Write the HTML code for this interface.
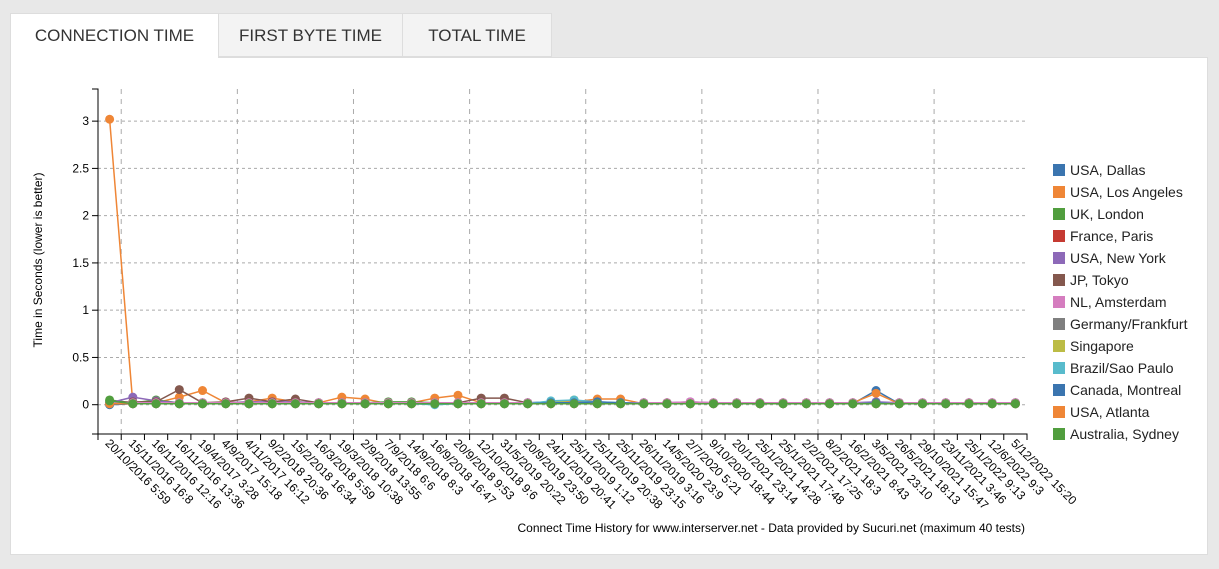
<!DOCTYPE html>
<html><head><meta charset="utf-8"><style>
body{margin:0;width:1219px;height:569px;background:#e8e8e8;font-family:"Liberation Sans",sans-serif;overflow:hidden;position:relative}
.tab{position:absolute;top:13px;height:44px;box-sizing:border-box;font-size:17px;color:#333;line-height:44px;text-align:center;border:1px solid #ddd;background:#f3f3f3}
#panel{position:absolute;left:10px;top:57px;width:1198px;height:498px;background:#fff;border:1px solid #ddd;box-sizing:border-box}
</style></head><body>
<div class="tab" style="left:10px;width:209px;background:#fff;border-bottom:none;z-index:2;height:45px">CONNECTION TIME</div>
<div class="tab" style="left:218px;width:185px">FIRST BYTE TIME</div>
<div class="tab" style="left:402px;width:150px">TOTAL TIME</div>
<div id="panel"></div>
<svg id="chart" width="1219" height="569" style="position:absolute;left:0;top:0" font-family="Liberation Sans, sans-serif"></svg>
<script>
const categories=["20/10/2016 5:59","15/11/2016 16:8","16/11/2016 12:16","16/11/2016 13:36","19/4/2017 3:28","4/9/2017 15:18","4/11/2017 16:12","9/2/2018 20:36","15/2/2018 16:34","16/3/2018 5:59","19/3/2018 10:38","2/9/2018 13:55","7/9/2018 6:6","14/9/2018 8:3","16/9/2018 16:47","20/9/2018 9:53","12/10/2018 9:6","31/5/2019 20:22","20/9/2019 23:50","24/11/2019 20:41","25/11/2019 1:12","25/11/2019 20:38","25/11/2019 23:15","26/11/2019 3:16","14/5/2020 23:9","2/7/2020 5:21","9/10/2020 18:44","20/1/2021 23:14","25/1/2021 14:28","25/1/2021 17:48","2/2/2021 17:25","8/2/2021 18:3","16/2/2021 8:43","3/5/2021 23:10","26/5/2021 18:13","29/10/2021 15:47","23/11/2021 3:46","25/1/2022 9:13","12/6/2022 9:3","5/12/2022 15:20"];
const seriesNames=["USA, Dallas","USA, Los Angeles","UK, London","France, Paris","USA, New York","JP, Tokyo","NL, Amsterdam","Germany/Frankfurt","Singapore","Brazil/Sao Paulo","Canada, Montreal","USA, Atlanta","Australia, Sydney"];
const seriesColors=["#3b75af","#ef8636","#519e3e","#c53a32","#8d69b8","#84584e","#d57dbf","#7f7f7f","#bcbc45","#58bbcc","#3b75af","#ef8636","#519e3e"];
const yTicks=[0,0.5,1,1.5,2,2.5,3];
const dallas=[0,.01,.02,.01,.01,.02,.01,.02,.02,.01,.02,.01,.02,.02,.01,.02,.01,.01,.02,.03,.03,.02,.02,.02,.01,.01,.01,.01,.01,.01,.01,.01,.01,.15,.01,.01,.01,.01,.01,.01];
const la=[3.02,.01,.02,.08,.15,.02,.03,.07,.03,.02,.08,.06,.01,.02,.07,.1,.02,.02,.02,.02,.03,.06,.06,.01,.02,.02,.01,.01,.01,.01,.02,.01,.02,.12,.01,.01,.01,.02,.01,.01];
const london=[.05,.02,.05,.02,.02,.02,.02,.02,.02,.02,.02,.02,.03,.03,.02,.02,.02,.02,.02,.02,.02,.02,.02,.02,.02,.02,.02,.02,.02,.02,.02,.02,.02,.02,.02,.02,.02,.02,.02,.02];
const paris=[.01,.01,.01,.01,.01,.01,.01,.01,.01,.01,.01,.01,.01,.01,.01,.01,.01,.01,.01,.01,.01,.01,.01,.01,.01,.01,.01,.01,.01,.01,.01,.01,.01,.01,.01,.01,.01,.01,.01,.01];
const newyork=[.02,.08,.04,.02,.02,.02,.03,.03,.03,.02,.02,.02,.02,.02,.02,.02,.02,.02,.02,.02,.02,.02,.02,.02,.02,.03,.02,.02,.02,.02,.02,.02,.02,.03,.02,.02,.02,.02,.02,.02];
const tokyo=[.02,.03,.03,.16,.02,.03,.07,.03,.06,.02,.02,.02,.02,.02,.02,.02,.07,.07,.02,.02,.02,.02,.02,.02,.02,.02,.02,.02,.02,.02,.02,.02,.02,.02,.02,.02,.02,.02,.02,.02];
const amsterdam=[.02,.02,.02,.02,.02,.02,.02,.02,.02,.02,.02,.02,.02,.02,.02,.02,.02,.02,.02,.02,.02,.02,.02,.02,.02,.03,.02,.02,.02,.02,.02,.02,.02,.02,.02,.02,.02,.02,.02,.02];
const frankfurt=[.01,.01,.01,.01,.01,.01,.01,.01,.01,.01,.01,.01,.01,.01,.01,.01,.01,.01,.01,.01,.01,.01,.01,.01,.01,.01,.01,.01,.01,.01,.01,.01,.01,.01,.01,.01,.01,.01,.01,.01];
const singapore=[.01,.01,.01,.01,.01,.01,.01,.01,.01,.01,.01,.01,.01,.01,.01,.01,.01,.01,.01,.02,.05,.02,.02,.01,.01,.01,.01,.01,.01,.01,.01,.01,.01,.01,.01,.01,.01,.01,.01,.01];
const brazil=[.01,.01,.01,.01,.01,.01,.01,.01,.01,.01,.01,.01,.01,.01,0,.01,.01,.01,.01,.04,.05,.03,.02,.01,.01,.01,.01,.01,.01,.01,.01,.01,.01,.01,.01,.01,.01,.01,.01,.01];
const montreal=[.01,.01,.01,.01,.01,.01,.01,.01,.01,.01,.01,.01,.01,.01,.01,.01,.01,.01,.01,.02,.02,.03,.02,.01,.01,.01,.01,.01,.01,.01,.01,.01,.01,.02,.01,.01,.01,.01,.01,.01];
const atlanta=[.01,.01,.01,.01,.01,.01,.01,.01,.01,.01,.01,.01,.01,.01,.01,.01,.01,.01,.01,.01,.01,.01,.01,.01,.01,.01,.01,.01,.01,.01,.01,.01,.01,.01,.01,.01,.01,.01,.01,.01];
const sydney=[.04,.01,.01,.01,.01,.01,.01,.01,.01,.01,.01,.01,.01,.01,.01,.01,.01,.01,.01,.01,.01,.01,.01,.01,.01,.01,.01,.01,.01,.01,.01,.01,.01,.01,.01,.01,.01,.01,.01,.01];
const seriesValues=[dallas,la,london,paris,newyork,tokyo,amsterdam,frankfurt,singapore,brazil,montreal,atlanta,sydney];

const NS="http://www.w3.org/2000/svg",svg=document.getElementById('chart');
const X0=98,X1=1027,Y0=89,Y1=434,yMin=-0.31,yMax=3.34;
const band=(X1-X0)/categories.length;
const x=i=>X0+band*(i+0.5);
const y=v=>Y1-(v-yMin)/(yMax-yMin)*(Y1-Y0);
function mk(t,a,p){const e=document.createElementNS(NS,t);for(const k in a)e.setAttribute(k,a[k]);(p||svg).appendChild(e);return e;}
yTicks.forEach(v=>{
 const g=mk('line',{x1:X0,x2:X1,y1:y(v),y2:y(v),stroke:'#aaa','stroke-dasharray':'3,3'});
 
 
 const t=mk('line',{x1:X0-6,x2:X0,y1:y(v),y2:y(v),stroke:'#000'});
 
 
 const l=mk('text',{x:X0-9,y:y(v)+4,'text-anchor':'end','font-size':12,fill:'#000'});l.textContent=v;
 
 
});
for(let k=1;k<categories.length;k+=5){
 const g=mk('line',{x1:X0+band*k,x2:X0+band*k,y1:Y0,y2:Y1,stroke:'#aaa','stroke-dasharray':'5,5'});
 
 
}
const ya=mk('path',{d:`M${X0-6},${Y0}H${X0}V${Y1}H${X0-6}`,fill:'none',stroke:'#000'});


const xa=mk('path',{d:`M${X0},${Y1+6}V${Y1}H${X1}V${Y1+6}`,fill:'none',stroke:'#000'});


for(let k=0;k<=categories.length;k++){const t=mk('line',{x1:X0+band*k,x2:X0+band*k,y1:Y1,y2:Y1+6,stroke:'#000'});
 
 }
categories.forEach((c,i)=>{
 const t=mk('text',{x:0,y:0,'font-size':12,fill:'#000',transform:`translate(${x(i)-5},${Y1+10}) rotate(45)`});t.textContent=c;
 
 
});
seriesValues.forEach((vals,s)=>{
 const g=mk('g',{});
 
 
 const ln=mk('path',{d:vals.map((v,i)=>(i?'L':'M')+x(i)+','+y(v)).join(''),fill:'none',stroke:seriesColors[s],'stroke-width':1.5},g);
 
 
 vals.forEach((v,i)=>{const c=mk('circle',{cx:x(i),cy:y(v),r:4.5,fill:seriesColors[s]},g);
  
  });
});
seriesNames.forEach((n,s)=>{
 const g=mk('g',{});
 
 
 mk('rect',{x:1053,y:164+22*s,width:12,height:12,fill:seriesColors[s]},g);
 const t=mk('text',{x:1070,y:175+22*s,'font-size':14,fill:'#222'},g);t.textContent=n;
});
const yt=mk('text',{x:0,y:0,'font-size':12,'text-anchor':'middle',transform:`translate(42,260) rotate(-90)`});yt.textContent='Time in Seconds (lower is better)';


const cap=mk('text',{x:1025,y:532,'font-size':12,'text-anchor':'end'});cap.textContent='Connect Time History for www.interserver.net - Data provided by Sucuri.net (maximum 40 tests)';


</script>
</body></html>
